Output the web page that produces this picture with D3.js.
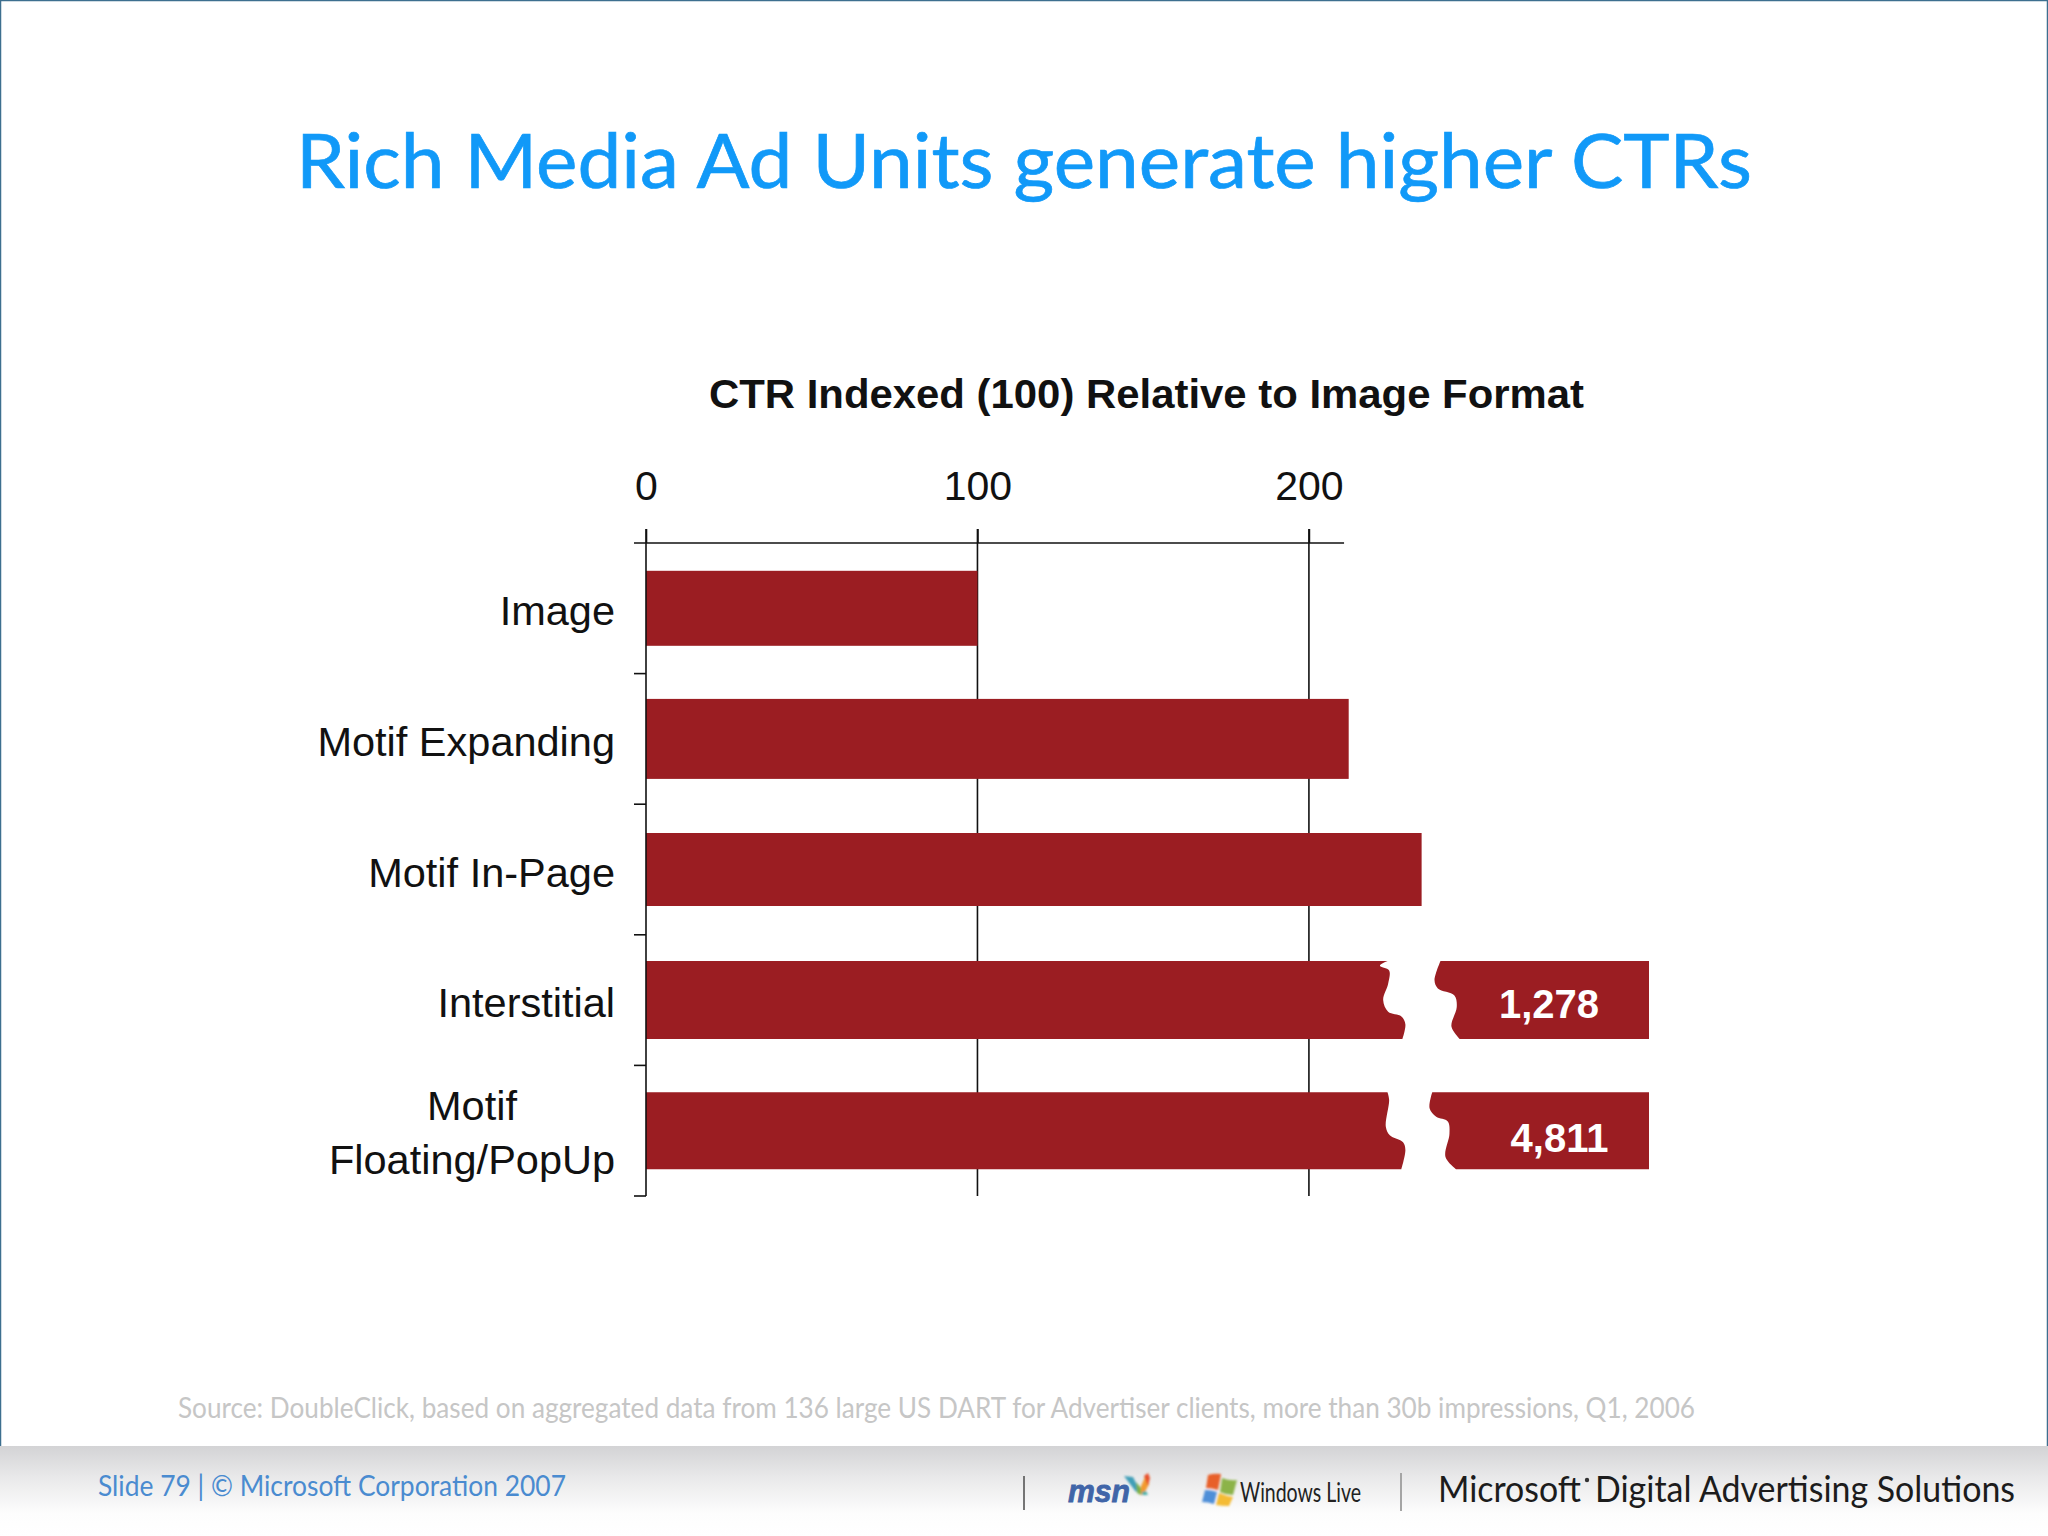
<!DOCTYPE html>
<html>
<head>
<meta charset="utf-8">
<script src="https://d3js.org/d3.v7.min.js"></script>
<style>
  html, body { margin: 0; padding: 0; background: #fff; }
  svg { display: block; }
  .chart text { font-family: "Liberation Sans", Arial, sans-serif; fill: #111; }
  .slide text { font-family: Lato, "Open Sans", sans-serif; }
</style>
</head>
<body>
<svg id="slide" width="2048" height="1536"></svg>
<script>
var categories = ["Image", "Motif Expanding", "Motif In-Page", "Interstitial", "Motif Floating/PopUp"];
var ctrValues = [100, 212, 234, 1278, 4811];
var ctrLabels = ["", "", "", "1,278", "4,811"];
var axisTicks = [0, 100, 200];

// torn edges of the two broken bars, as [index value, fraction down the bar]
var tearLeft = {
  "Interstitial": [[223.7, 0], [221.4, .06], [224.2, .12], [223.9, .29], [222.4, .5], [223.9, .65], [227.9, .71], [229.1, .81], [228.2, 1]],
  "Motif Floating/PopUp": [[223.7, 0], [224.2, .1], [223.2, .45], [224.4, .56], [228.4, .65], [229.1, .75], [227.9, 1]]
};
var tearRight = {
  "Interstitial": [[239.7, 0], [237.9, .25], [238.9, .35], [243.9, .44], [244.6, .59], [243, .84], [245.5, 1]],
  "Motif Floating/PopUp": [[237.2, 0], [236.4, .21], [238.4, .32], [241.9, .38], [242.4, .54], [241.2, .84], [244.4, 1]]
};

var barColor = "#9b1d22";
var breakAt = 300;        // anything above this runs off the stub end
var stubEnd = 302.6;      // index value the axis reaches at the end of the stubs
var axisLineEnd = 210.6;
var barHeights = [75, 80, 73, 78, 77];   // the scanned bars are not quite even

var svg = d3.select("#slide");

// slide furniture
var defs = svg.append("defs");
var fade = defs.append("linearGradient").attr("id", "footerFade").attr("x1", 0).attr("x2", 0).attr("y1", 0).attr("y2", 1);
fade.append("stop").attr("offset", 0).attr("stop-color", "#d3d3d5");
fade.append("stop").attr("offset", .35).attr("stop-color", "#e9e9ea");
fade.append("stop").attr("offset", .75).attr("stop-color", "#fdfdfd");
fade.append("stop").attr("offset", 1).attr("stop-color", "#ffffff");
defs.append("filter").attr("id", "soft").append("feGaussianBlur").attr("stdDeviation", .9);

var slide = svg.append("g").attr("class", "slide");
slide.append("path").attr("d", "M0.5 1446V0.5H2047.5V1446").attr("fill", "none").attr("stroke", "#3d6f8f").attr("stroke-width", 1.5);
slide.append("rect").attr("x", 0).attr("y", 1446).attr("width", 2048).attr("height", 90).attr("fill", "url(#footerFade)");

slide.append("text").attr("x", 296).attr("y", 188)
  .attr("textLength", 1456).attr("lengthAdjust", "spacingAndGlyphs")
  .attr("font-size", 76).attr("fill", "#1199f8")
  .attr("stroke", "#1199f8").attr("stroke-width", .7)
  .text("Rich Media Ad Units generate higher CTRs");

slide.append("text").attr("x", 178).attr("y", 1418)
  .attr("textLength", 1517).attr("lengthAdjust", "spacingAndGlyphs")
  .attr("font-size", 28).attr("fill", "#c6c6c6")
  .text("Source: DoubleClick, based on aggregated data from 136 large US DART for Advertiser clients, more than 30b impressions, Q1, 2006");

slide.append("text").attr("x", 98).attr("y", 1496)
  .attr("textLength", 468).attr("lengthAdjust", "spacingAndGlyphs")
  .attr("font-size", 29).attr("fill", "#4a8bd0")
  .text("Slide 79 | © Microsoft Corporation 2007");

// chart
var x = d3.scaleLinear().domain([0, stubEnd]).range([646, 1649]).clamp(true);
var y = d3.scaleBand().domain(categories).range([543, 1196]).paddingInner(.41).paddingOuter(.205);

var chart = svg.append("g").attr("class", "chart");

chart.append("text").attr("x", 709).attr("y", 408)
  .attr("textLength", 875).attr("lengthAdjust", "spacingAndGlyphs")
  .attr("font-size", 41).attr("font-weight", "bold")
  .text("CTR Indexed (100) Relative to Image Format");

chart.append("g").selectAll("line").data(axisTicks.slice(1)).join("line")
  .attr("x1", x).attr("x2", x).attr("y1", 529).attr("y2", 1196)
  .attr("stroke", "#111").attr("stroke-width", 1.6);

var rows = categories.map(function(c, i) {
  return { name: c, value: ctrValues[i], label: ctrLabels[i], h: barHeights[i] };
});

function barMid(d) { return y(d.name) + y.bandwidth() / 2; }
function barTop(d) { return barMid(d) - d.h / 2; }
function barBottom(d) { return barMid(d) + d.h / 2; }

chart.append("g").selectAll("rect")
  .data(rows.filter(function(d) { return d.value <= breakAt; }))
  .join("rect")
  .attr("x", x(0))
  .attr("y", barTop)
  .attr("width", function(d) { return x(d.value) - x(0); })
  .attr("height", function(d) { return d.h; })
  .attr("fill", barColor);

var tearLine = d3.line().curve(d3.curveCatmullRom.alpha(.5));

function tearPoints(d, edge) {
  return edge[d.name].map(function(p) {
    return [x(p[0]), barTop(d) + p[1] * d.h];
  });
}

var broken = rows.filter(function(d) { return d.value > breakAt; });

chart.append("g").selectAll("path.left")
  .data(broken).join("path").attr("class", "left")
  .attr("fill", barColor)
  .attr("d", function(d) {
    return "M" + x(0) + " " + barBottom(d) + "V" + barTop(d) + "L" + tearLine(tearPoints(d, tearLeft)).slice(1) + "Z";
  });

chart.append("g").selectAll("path.right")
  .data(broken).join("path").attr("class", "right")
  .attr("fill", barColor)
  .attr("d", function(d) {
    return "M" + x(d.value) + " " + barBottom(d) + "V" + barTop(d) + "L" + tearLine(tearPoints(d, tearRight)).slice(1) + "Z";
  });

// distance of each stub label's centre from the stub end, and baseline below bar middle
var stubLabelInset = [[100, 18], [89.5, 21]];
chart.append("g").selectAll("text")
  .data(broken).join("text")
  .attr("x", function(d, i) { return x(d.value) - stubLabelInset[i][0]; })
  .attr("y", function(d, i) { return barMid(d) + stubLabelInset[i][1]; })
  .attr("text-anchor", "middle")
  .attr("font-size", 40).attr("font-weight", "bold")
  .style("fill", "#fff")
  .text(function(d) { return d.label; });

// axes
var topAxis = d3.axisTop(x).tickValues(axisTicks).tickSize(14).tickPadding(29);
var topG = chart.append("g").attr("transform", "translate(0,543)").call(topAxis);
topG.select(".domain").remove();
topG.selectAll("line").attr("stroke", "#111").attr("stroke-width", 1.6);
topG.selectAll("text").attr("font-size", 41).attr("font-family", null);

chart.append("line")
  .attr("x1", x(0) - 12).attr("x2", x(axisLineEnd)).attr("y1", 543).attr("y2", 543)
  .attr("stroke", "#111").attr("stroke-width", 1.6);

chart.append("line")
  .attr("x1", x(0)).attr("x2", x(0)).attr("y1", 529).attr("y2", 1196)
  .attr("stroke", "#111").attr("stroke-width", 1.6);

chart.append("g").selectAll("line")
  .data(categories).join("line")
  .attr("x1", x(0) - 12).attr("x2", x(0))
  .attr("y1", function(d) { return y(d) + y.bandwidth() + y.step() * .205; })
  .attr("y2", function(d) { return y(d) + y.bandwidth() + y.step() * .205; })
  .attr("stroke", "#111").attr("stroke-width", 1.6);

var labelG = chart.append("g");
categories.slice(0, 4).forEach(function(c) {
  labelG.append("text")
    .attr("x", 615).attr("y", y(c) + y.bandwidth() / 2 + 17)
    .attr("text-anchor", "end").attr("font-size", 41.5)
    .text(c);
});
labelG.append("text").attr("x", 472).attr("y", 1120).attr("text-anchor", "middle").attr("font-size", 41.5).text("Motif");
labelG.append("text").attr("x", 472).attr("y", 1174).attr("text-anchor", "middle").attr("font-size", 41.5).text("Floating/PopUp");

// footer logos
var logos = svg.append("g").attr("class", "slide");
logos.append("line").attr("x1", 1024).attr("x2", 1024).attr("y1", 1476).attr("y2", 1510).attr("stroke", "#555").attr("stroke-width", 1.6);
logos.append("line").attr("x1", 1401).attr("x2", 1401).attr("y1", 1473).attr("y2", 1511).attr("stroke", "#a5a5a5").attr("stroke-width", 2);

logos.append("text").attr("x", 1068).attr("y", 1502)
  .attr("textLength", 62).attr("lengthAdjust", "spacingAndGlyphs")
  .attr("font-size", 32).attr("font-weight", "bold").attr("font-style", "italic")
  .attr("fill", "#4065a8").attr("stroke", "#4065a8").attr("stroke-width", .8)
  .style("font-family", "'Liberation Sans'").text("msn");

var icons = logos.append("g").attr("filter", "url(#soft)");
[["#3f9fb8", "M1124 1476l9 1 6 12-3 3z"],
 ["#7db04a", "M1136 1482l6 7-1 6-4-2z"],
 ["#f29a2e", "M1141 1486l5-11 3 9-5 10-3 1z"],
 ["#e8502a", "M1144 1476l4-3 2 5-2 8z"],
 ["#4bb0a8", "M1142 1492l4-1 2 4h-6z"],
 ["#e8602c", "M1208 1475q6-2 13-1l-3 16q-6-2-12-2z"],
 ["#8cb34a", "M1222 1478q8 3 15 2l-4 15q-7 0-13-3z"],
 ["#4f8fd8", "M1205 1490q6 0 12 2l-3 12q-6-2-12-2z"],
 ["#f4bb34", "M1219 1493q7 3 14 4l-4 9q-7 0-13-1z"]]
  .forEach(function(p) { icons.append("path").attr("d", p[1]).attr("fill", p[0]); });

logos.append("text").attr("x", 1240).attr("y", 1502)
  .attr("textLength", 121).attr("lengthAdjust", "spacingAndGlyphs")
  .attr("font-size", 26).attr("fill", "#222").text("Windows Live");

logos.append("text").attr("x", 1438).attr("y", 1502)
  .attr("textLength", 143).attr("lengthAdjust", "spacingAndGlyphs")
  .attr("font-size", 37).attr("fill", "#1c1c1c").text("Microsoft");
logos.append("circle").attr("cx", 1587).attr("cy", 1480).attr("r", 2.2).attr("fill", "#333");
logos.append("text").attr("x", 1595).attr("y", 1502)
  .attr("textLength", 420).attr("lengthAdjust", "spacingAndGlyphs")
  .attr("font-size", 37).attr("fill", "#1c1c1c").text("Digital Advertising Solutions");
</script>
</body>
</html>
